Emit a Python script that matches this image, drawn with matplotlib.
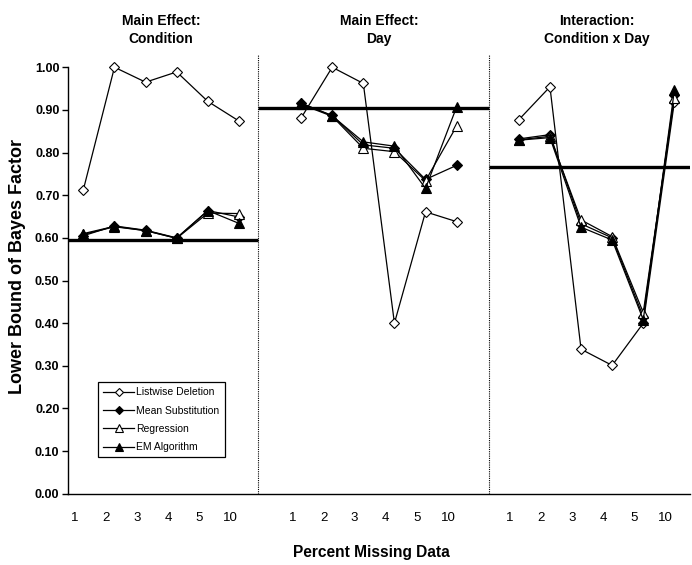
import matplotlib
matplotlib.use("Agg")
import matplotlib.pyplot as plt
import numpy as np

plt.rcParams['font.family'] = ['Liberation Sans', 'DejaVu Sans']

# x categories (percent missing) and panel titles
pct_labels = ['1', '2', '3', '4', '5', '10']
panel_titles = ['Main Effect:\nCondition', 'Main Effect:\nDay', 'Interaction:\nCondition x Day']

# lower bound of Bayes factor, per panel: listwise, mean subst., regression, EM
listwise = [
    [0.713, 1.000, 0.965, 0.989, 0.920, 0.874],
    [0.881, 1.000, 0.962, 0.400, 0.661, 0.638],
    [0.877, 0.954, 0.339, 0.301, 0.400, 0.919],
]
mean_sub = [
    [0.605, 0.628, 0.618, 0.600, 0.664, 0.649],
    [0.915, 0.887, 0.818, 0.810, 0.737, 0.770],
    [0.832, 0.842, 0.633, 0.600, 0.415, 0.935],
]
regression = [
    [0.608, 0.626, 0.617, 0.599, 0.658, 0.657],
    [0.913, 0.885, 0.810, 0.802, 0.734, 0.862],
    [0.830, 0.838, 0.642, 0.603, 0.425, 0.928],
]
em_alg = [
    [0.610, 0.627, 0.617, 0.599, 0.664, 0.634],
    [0.916, 0.886, 0.825, 0.815, 0.716, 0.907],
    [0.829, 0.835, 0.625, 0.595, 0.408, 0.946],
]
# criterion line for each panel
criterion = [0.595, 0.905, 0.765]

fig = plt.figure(figsize=(6.92, 5.65), dpi=100)
ax = fig.add_axes([0.098, 0.126, 0.899, 0.755])

offsets = [0, 7, 14]
series = [
    (listwise, 'Listwise Deletion', dict(marker='D', mfc='white', ms=5)),
    (mean_sub, 'Mean Substitution', dict(marker='D', mfc='black', ms=5)),
    (regression, 'Regression', dict(marker='^', mfc='white', ms=6.5)),
    (em_alg, 'EM Algorithm', dict(marker='^', mfc='black', ms=6.5)),
]

for p, off in enumerate(offsets):
    xs = off + np.arange(len(pct_labels))
    for vals, name, style in series:
        ax.plot(xs, vals[p], color='black', lw=0.9, mec='black', mew=0.8,
                label=name if p == 0 else None, zorder=3, clip_on=False, **style)

# panel dividers sit a little off the gap centres in the original
dividers = [5.6, 13.03]

# criterion lines, each spanning its own panel
bounds = [(-0.5, dividers[0]), (dividers[0], dividers[1]), (dividers[1], 19.5)]
for (x0, x1), c in zip(bounds, criterion):
    ax.plot([x0, x1], [c, c], color='black', lw=2.4, solid_capstyle='butt', zorder=2)

for xd in dividers:
    ax.plot([xd, xd], [0, 1.028], color='black', lw=0.8, ls=(0, (1, 1)),
            clip_on=False, zorder=1)

ax.set_xlim(-0.5, 19.5)
ax.set_ylim(0, 1.0)
for s in ['top', 'right']:
    ax.spines[s].set_visible(False)
ax.spines['left'].set_linewidth(1.0)
ax.spines['bottom'].set_linewidth(1.0)

ax.set_yticks(np.arange(0, 1.01, 0.1))
ax.set_yticklabels([f'{v:.2f}' for v in np.arange(0, 1.01, 0.1)],
                   fontsize=9, fontweight='bold')
ax.tick_params(axis='y', direction='out', length=4, width=1.0, pad=2)

ticks = []
labels = []
for off in offsets:
    ticks += list(off + np.arange(len(pct_labels)) - 0.28)
    labels += pct_labels
ax.set_xticks(ticks)
ax.set_xticklabels(labels, fontsize=9.5)
ax.tick_params(axis='x', length=0, pad=13)

for off, title in zip(offsets, panel_titles):
    ax.text(off + 2.5, 1.056, title, ha='center', va='baseline', fontsize=10,
            fontweight='bold', linespacing=1.4, transform=ax.get_xaxis_transform())

fig.text(371 / 692, 1 - 552 / 565, 'Percent Missing Data', ha='center', va='center',
         fontsize=11.2, fontweight='bold')
fig.text(18 / 692, 1 - 266 / 565, 'Lower Bound of Bayes Factor', ha='center', va='center',
         rotation=90, fontsize=13, fontweight='bold')

leg = ax.legend(loc='upper left', bbox_to_anchor=(0.048, 0.262), fontsize=7.5,
                frameon=True, fancybox=False, edgecolor='black', framealpha=1,
                handlelength=3.0, handletextpad=0.2, borderpad=0.5,
                labelspacing=0.8, borderaxespad=0, markerscale=0.85)
leg.get_frame().set_linewidth(0.9)

fig.savefig('out.png', dpi=100)
